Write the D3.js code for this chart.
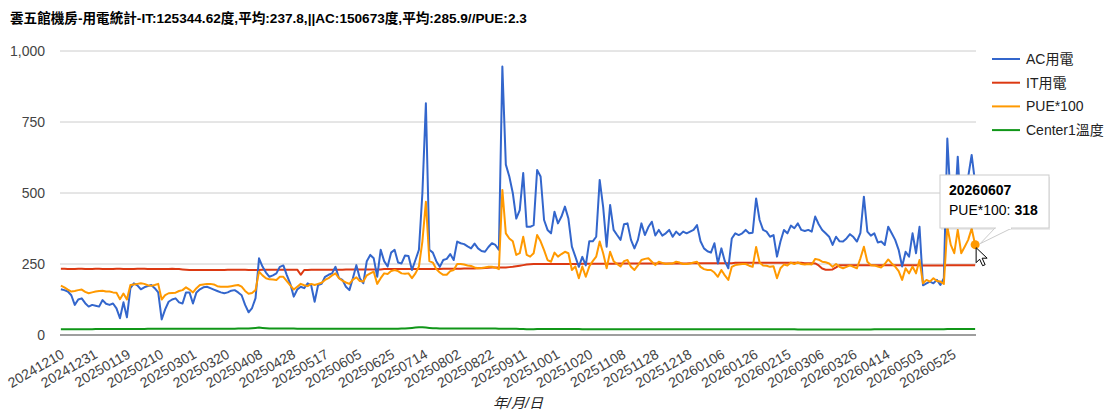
<!DOCTYPE html>
<html>
<head>
<meta charset="utf-8">
<script src="https://cdn.jsdelivr.net/npm/d3@7"></script>
<style>
  body { margin: 0; background: #fff; }
  svg { font-family: Arial, "Liberation Sans", "Noto Sans CJK TC", sans-serif; }
</style>
</head>
<body>
<svg id="chart" width="1120" height="414"></svg>
<script>
// one value every 2 days (day index = 2*k), 20241210 .. 20260607
var acPower = [
  161,158,153,140,106,125,129,112,100,106,103,100,123,110,106,111,94,59,115,62,
  165,182,175,161,168,172,176,165,150,55,90,117,125,129,115,111,150,150,111,150,
  161,168,170,165,160,155,150,147,150,156,158,150,140,106,80,95,130,270,241,220,
  205,210,217,240,245,211,180,135,160,170,165,182,175,117,176,180,205,212,217,240,
  200,194,170,158,200,246,200,182,260,282,270,205,300,260,241,290,300,255,252,280,
  278,229,264,300,500,816,300,290,260,240,264,268,285,264,329,323,320,312,305,322,
  305,296,293,310,323,317,300,945,600,558,500,410,440,570,381,381,387,581,558,405,
  370,358,434,393,417,452,410,311,276,240,275,245,330,330,346,546,450,311,458,370,
  352,335,390,393,335,305,335,393,352,380,399,350,370,350,358,370,346,364,352,364,
  358,364,370,387,330,305,295,290,323,252,305,260,235,340,358,352,358,370,358,360,
  481,405,370,364,346,352,276,329,370,358,385,376,393,370,366,370,364,417,390,370,
  358,346,317,346,330,329,340,355,345,329,360,487,364,350,358,326,329,317,381,358,
  335,300,241,293,276,358,288,381,175,182,188,182,194,176,200,692,464,417,628,417,
  475,557,634,536
];
var itPower = [
  233,233,232,232,232,233,233,232,232,232,233,233,232,232,232,232,233,233,232,232,
  232,232,233,233,233,232,232,232,232,232,232,232,233,232,232,231,230,229,229,229,
  229,229,229,229,229,229,229,229,230,230,230,230,230,230,229,229,229,229,230,230,
  230,230,230,230,230,230,230,230,230,212,229,229,230,230,230,230,230,230,230,230,
  230,230,231,231,231,231,231,231,231,231,231,231,231,232,232,232,232,232,232,232,
  232,232,232,232,232,232,232,232,232,232,233,233,233,233,233,233,234,234,234,234,
  235,235,236,237,238,238,238,238,238,239,240,242,244,246,248,249,250,250,250,250,
  250,250,250,250,250,250,250,250,250,250,251,251,251,251,251,251,251,251,251,251,
  252,252,252,252,252,252,252,252,252,252,252,252,252,252,252,252,252,252,252,252,
  252,253,253,253,253,253,253,253,253,253,253,253,253,253,254,254,254,254,254,254,
  254,254,254,254,254,254,254,254,254,254,254,254,254,254,253,253,253,252,245,234,
  230,230,231,238,246,246,246,246,246,246,246,246,246,246,246,246,246,246,246,246,
  246,246,246,246,246,246,246,246,245,245,245,245,245,245,245,246,246,246,246,246,
  246,246,246,246
];
var pue100 = [
  174,168,160,153,155,158,160,152,147,150,153,155,156,153,153,150,149,126,146,125,
  176,178,180,182,180,175,173,176,180,125,140,147,148,149,155,158,168,160,150,165,
  176,178,180,180,178,172,170,170,170,172,174,176,170,155,145,148,158,223,210,200,
  196,195,194,205,205,190,175,160,170,180,175,172,180,176,180,184,194,200,210,217,
  200,191,185,180,195,203,190,188,210,217,223,180,200,217,215,225,229,225,217,216,
  217,200,217,241,330,469,260,255,232,220,212,212,225,229,250,250,248,245,243,238,
  235,236,238,240,240,237,232,511,358,340,330,282,288,346,282,276,288,352,330,299,
  264,258,290,276,285,293,288,229,241,200,241,205,241,260,276,329,288,235,293,260,
  250,241,260,264,240,229,245,264,268,270,258,246,258,254,250,252,252,258,255,250,
  250,252,255,258,240,232,229,229,220,205,229,210,194,240,246,248,250,250,244,240,
  310,255,245,244,240,242,200,235,248,245,255,250,256,250,248,250,248,268,265,258,
  256,252,240,250,240,235,240,245,240,235,270,311,258,246,245,241,238,250,266,252,
  241,225,194,235,217,241,217,264,182,194,188,200,190,188,180,381,317,288,370,288,
  311,335,375,318
];
var center1Temp = [
  20,20,20,20,20,20,20,20,20,20,21,21,21,21,21,21,21,21,21,21,
  21,21,21,21,21,22,22,22,22,22,22,22,22,22,22,22,22,22,22,22,
  22,22,22,22,22,22,22,22,22,22,22,23,23,23,23,24,25,26,25,24,
  23,23,23,23,23,23,23,23,22,22,22,22,22,22,22,22,22,22,22,22,
  22,22,22,22,22,22,22,22,22,22,22,22,22,22,22,22,22,22,23,23,
  24,25,26,27,27,26,25,24,24,23,23,23,23,23,23,23,23,23,23,23,
  23,23,23,23,23,23,22,22,22,22,22,22,21,21,20,20,20,21,21,21,
  21,21,21,21,21,21,21,21,21,21,20,20,20,20,20,20,20,20,20,20,
  20,20,20,20,20,20,20,20,20,20,20,20,20,20,20,20,20,20,20,20,
  20,20,20,20,20,20,20,20,20,20,20,20,20,20,20,20,20,20,20,20,
  20,20,20,20,20,20,20,20,20,20,20,20,19,19,19,19,19,19,19,19,
  19,19,19,19,19,19,19,19,19,19,19,19,19,19,20,20,20,20,20,20,
  20,20,20,20,20,20,20,20,20,20,20,20,20,20,20,21,21,21,21,21,
  21,21,21,21
];
var tickLabels = ["20241210","20241231","20250119","20250210","20250301","20250320","20250408",
  "20250428","20250517","20250605","20250625","20250714","20250802","20250822","20250911",
  "20251001","20251020","20251108","20251128","20251218","20260106","20260126","20260215",
  "20260306","20260326","20260414","20260503","20260525"];
var yTicks = [0, 250, 500, 750, 1000];
var seriesNames = ["AC用電", "IT用電", "PUE*100", "Center1溫度"];
var colors = ["#3366cc", "#dc3912", "#ff9900", "#109618"];
var titleText = "雲五館機房-用電統計-IT:125344.62度,平均:237.8,||AC:150673度,平均:285.9//PUE:2.3";
var tipDate = "20260607", tipValue = 318;

var dayCount = 527, labelStep = 19, sampleStep = 2;

var svg = d3.select("#chart");
var plotLeft = 60, plotRight = 976, plotTop = 51, plotBottom = 335;

var x = d3.scaleLinear().domain([-0.5, dayCount - 0.5]).range([plotLeft, plotRight]);
var y = d3.scaleLinear().domain([0, 1000]).range([plotBottom, plotTop]);

svg.append("text")
  .attr("x", 10).attr("y", 23)
  .style("font-size", "13.6px").style("font-weight", "bold").attr("fill", "#000")
  .text(titleText);

// gridlines
svg.append("g").selectAll("line")
  .data(yTicks.filter(function(d){ return d > 0; }))
  .enter().append("line")
  .attr("x1", plotLeft).attr("x2", plotRight)
  .attr("y1", function(d){ return y(d); }).attr("y2", function(d){ return y(d); })
  .attr("stroke", "#cccccc").attr("stroke-width", 1);

var yAxis = svg.append("g")
  .attr("transform", "translate(" + (plotLeft - 12) + ",0)")
  .call(d3.axisLeft(y).tickValues(yTicks).tickSize(0).tickFormat(d3.format(",")));
yAxis.select(".domain").remove();
yAxis.selectAll("text").style("font-size", "14px").attr("fill", "#444");

// series
var series = [acPower, itPower, pue100, center1Temp];
var line = d3.line()
  .x(function(d, i){ return x(i * sampleStep); })
  .y(function(d){ return y(d); });

var order = [3, 1, 0, 2];
order.forEach(function(s) {
  svg.append("path")
    .datum(series[s])
    .attr("d", line)
    .attr("fill", "none")
    .attr("stroke", colors[s])
    .attr("stroke-width", 2)
    .attr("stroke-linejoin", "round");
});

// baseline
svg.append("line")
  .attr("x1", plotLeft).attr("x2", plotRight)
  .attr("y1", y(0)).attr("y2", y(0))
  .attr("stroke", "#9e9e9e").attr("stroke-width", 2);

// x labels
var xAxis = svg.append("g").attr("transform", "translate(0," + (plotBottom + 15) + ")")
  .call(d3.axisBottom(x)
    .tickValues(tickLabels.map(function(d, i){ return i * labelStep; }))
    .tickSize(0)
    .tickFormat(function(d, i){ return tickLabels[i]; }));
xAxis.select(".domain").remove();
xAxis.selectAll("text")
  .style("font-size", "14px").attr("fill", "#444")
  .attr("text-anchor", "end")
  .attr("dy", 0).attr("y", 0)
  .attr("transform", "translate(4,7) rotate(-30)");

svg.append("text")
  .attr("x", (plotLeft + plotRight) / 2).attr("y", 408)
  .attr("text-anchor", "middle")
  .style("font-size", "14px").style("font-style", "italic").attr("fill", "#222")
  .text("年/月/日");

// legend
var legend = svg.append("g").selectAll("g")
  .data(seriesNames).enter().append("g")
  .attr("transform", function(d, i){ return "translate(992," + (59 + i * 23.7) + ")"; });
legend.append("line")
  .attr("x1", 0).attr("x2", 28)
  .attr("stroke", function(d, i){ return colors[i]; }).attr("stroke-width", 2);
legend.append("text")
  .attr("x", 34).attr("dy", "0.35em")
  .style("font-size", "14px").attr("fill", "#222")
  .text(function(d){ return d; });

// hovered point + tooltip
var lastI = (pue100.length - 1) * sampleStep;
var px = x(lastI), py = y(pue100[pue100.length - 1]);
svg.append("circle").attr("cx", px).attr("cy", py).attr("r", 4.5)
  .attr("fill", colors[2]);

var tip = svg.append("g");
var bx = 940, by = 175, bw = 109, bh = 53;
tip.append("rect").attr("x", bx + 1).attr("y", by + 2).attr("width", bw).attr("height", bh)
  .attr("fill", "#000").attr("opacity", 0.08);
tip.append("path")
  .attr("d", "M" + (bx + 55) + "," + (by + bh) + " L" + (px + 5) + "," + (py - 1) +
    " L" + (bx + 72) + "," + (by + bh))
  .attr("fill", "#fff").attr("stroke", "#cccccc");
tip.append("rect").attr("x", bx).attr("y", by).attr("width", bw).attr("height", bh)
  .attr("fill", "#fff").attr("stroke", "#cccccc");
tip.append("line").attr("x1", bx + 56).attr("x2", bx + 71)
  .attr("y1", by + bh).attr("y2", by + bh).attr("stroke", "#fff").attr("stroke-width", 2);
tip.append("text").attr("x", bx + 9).attr("y", by + 20)
  .style("font-size", "14px").style("font-weight", "bold").attr("fill", "#000")
  .text(tipDate);
var t2 = tip.append("text").attr("x", bx + 9).attr("y", by + 40)
  .style("font-size", "14px").attr("fill", "#000");
t2.append("tspan").text(seriesNames[2] + ": ");
t2.append("tspan").style("font-weight", "bold").text(tipValue);

// mouse cursor
svg.append("path")
  .attr("transform", "translate(" + (px + 1) + "," + (py + 3) + ")")
  .attr("d", "M0,0 L0,15 L3.5,11.5 L6.5,18 L9,17 L6,10.5 L11,10.5 Z")
  .attr("fill", "#fff").attr("stroke", "#000").attr("stroke-width", 1)
  .attr("stroke-linejoin", "round");
</script>
</body>
</html>
